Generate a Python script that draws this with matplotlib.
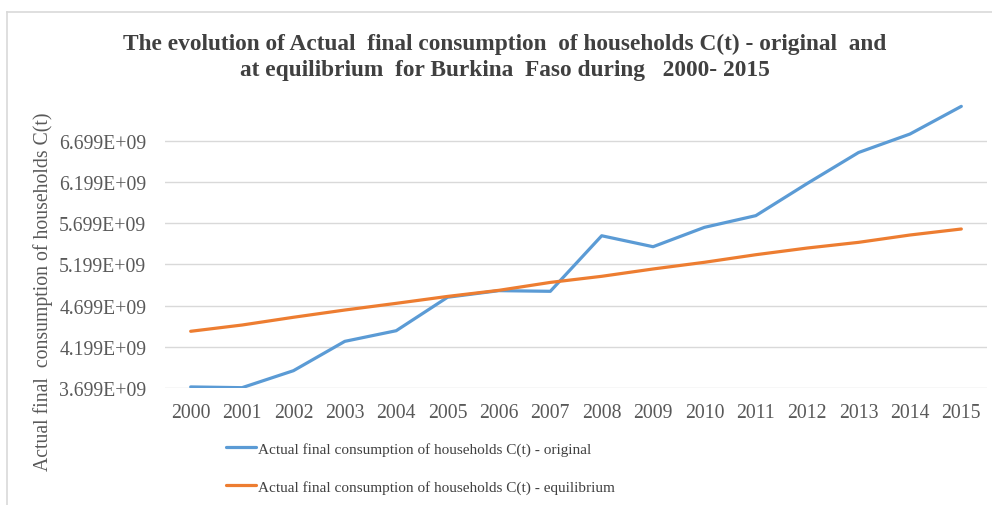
import matplotlib
matplotlib.use("Agg")
import matplotlib.pyplot as plt
from matplotlib.lines import Line2D

years = [str(y) for y in range(2000, 2016)]
original = [3.712, 3.703, 3.909, 4.265, 4.394, 4.800, 4.880, 4.872,
            5.546, 5.413, 5.648, 5.790, 6.180, 6.556, 6.780, 7.116]
equilibrium = [4.387, 4.463, 4.557, 4.645, 4.726, 4.810, 4.884, 4.980,
               5.054, 5.143, 5.224, 5.316, 5.397, 5.466, 5.555, 5.628]
ytick_vals = [3.699, 4.199, 4.699, 5.199, 5.699, 6.199, 6.699]
ytick_labels = ["3.699E+09", "4.199E+09", "4.699E+09", "5.199E+09",
                "5.699E+09", "6.199E+09", "6.699E+09"]
label_orig = "Actual final consumption of households C(t) - original"
label_eq = "Actual final consumption of households C(t) - equilibrium"
title = ("The evolution of Actual  final consumption  of households C(t) - original  and\n"
         "at equilibrium  for Burkina  Faso during   2000- 2015")
ylabel = "Actual final  consumption of households C(t)"

W, H = 992, 506
fig = plt.figure(figsize=(W / 100, H / 100), dpi=100)
serif = "Liberation Serif"

def fx(px):
    return px / W

def fy(py):
    return 1 - py / H

ax = fig.add_axes([fx(165), fy(389), fx(987) - fx(165), fy(100.5) - fy(389)])
x = list(range(len(years)))
ax.plot(x, original, color="#5B9BD5", lw=2.3, solid_capstyle="round", label=label_orig, zorder=3)
ax.plot(x, equilibrium, color="#ED7D31", lw=2.3, solid_capstyle="round", label=label_eq, zorder=3)
ax.set_xlim(-0.5, len(years) - 0.5)
ax.set_ylim(3.699, 7.199)
ax.set_yticks(ytick_vals)
ax.set_yticklabels(ytick_labels)
ax.set_xticks(x)
ax.set_xticklabels(years)
ax.grid(axis="y", color="#D9D9D9", lw=1)
ax.set_axisbelow(True)
for s in ax.spines.values():
    s.set_visible(False)
ax.tick_params(length=0, colors="#595959", labelsize=14.2)
ax.tick_params(axis="y", pad=13.5)
ax.tick_params(axis="x", pad=10.5)
for lab in ax.get_xticklabels() + ax.get_yticklabels():
    lab.set_fontfamily(serif)

fig.text(fx(505), fy(57.5), title, ha="center", va="center", fontsize=16.8,
         fontweight="bold", family=serif, color="#404040", linespacing=1.32)
fig.text(fx(43), fy(292), ylabel, rotation=90, ha="center", va="center",
         fontsize=14.2, family=serif, color="#595959")

leg = fig.legend(loc="upper left", bbox_to_anchor=(fx(226), fy(443)), frameon=False,
                 prop={"family": serif, "size": 11}, handlelength=1.95,
                 handletextpad=0.12, labelspacing=1.55, borderaxespad=0, borderpad=0)
for t in leg.get_texts():
    t.set_color("#404040")

fig.add_artist(Line2D([fx(7), 1.0], [fy(13), fy(13)], color="#D9D9D9", lw=1.2))
fig.add_artist(Line2D([fx(7), fx(7)], [fy(13), 0.0], color="#D9D9D9", lw=1.2))

fig.savefig("out.png", dpi=100)
